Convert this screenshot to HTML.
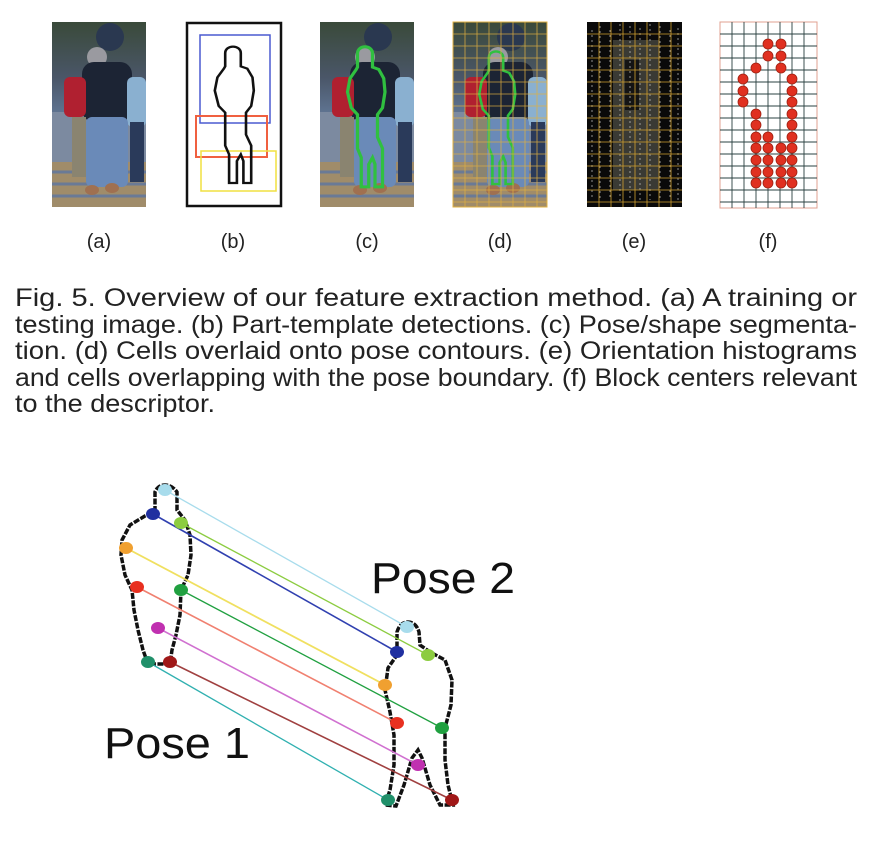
<!DOCTYPE html>
<html><head><meta charset="utf-8"><style>
html,body{margin:0;padding:0;background:#fff;}
svg{display:block;}
text{font-family:"Liberation Sans",Arial,sans-serif;}
</style></head><body>
<svg width="878" height="842" viewBox="0 0 878 842" xmlns="http://www.w3.org/2000/svg">
<defs>
<linearGradient id="ph" x1="0" y1="0" x2="0" y2="1">
<stop offset="0" stop-color="#3a4a3a"/><stop offset="0.3" stop-color="#4a5668"/><stop offset="0.6" stop-color="#6a84a8"/><stop offset="0.8" stop-color="#8a8a8a"/><stop offset="1" stop-color="#7a7a86"/>
</linearGradient>
<g id="photo">
<rect x="0" y="0" width="94" height="185" fill="url(#ph)"/>
<rect x="0" y="90" width="94" height="95" fill="#7c8aa0"/>
<rect x="0" y="140" width="94" height="45" fill="#a08c6a"/>
<g stroke="#6a7a96" stroke-width="3"><line x1="0" y1="150" x2="94" y2="150"/><line x1="0" y1="162" x2="94" y2="162"/><line x1="0" y1="174" x2="94" y2="174"/></g>
<ellipse cx="58" cy="15" rx="14" ry="14" fill="#2a3850"/>
<ellipse cx="45" cy="35" rx="10" ry="10" fill="#9a9aa0"/>
<rect x="30" y="40" width="50" height="60" rx="12" fill="#1c2434"/>
<rect x="12" y="55" width="22" height="40" rx="6" fill="#b02030"/>
<rect x="75" y="55" width="19" height="50" rx="6" fill="#8ab0d0"/>
<rect x="34" y="95" width="42" height="70" rx="6" fill="#6a8ab8"/>
<rect x="78" y="100" width="14" height="60" fill="#2a3a5a"/>
<rect x="20" y="95" width="14" height="60" fill="#8a8470"/>
<ellipse cx="40" cy="168" rx="7" ry="5" fill="#a07050"/>
<ellipse cx="60" cy="166" rx="7" ry="5" fill="#a07050"/>
</g>
<path id="sil" d="M14,12 C14,4 26,4 26,12 L26,24 L31,26 L35,34 L36,46 L34,60 L30,66 L30,86 L34,96 L34,130 L28,130 L28,110 L26,104 L23,110 L23,130 L17,130 L17,104 L14,96 L14,66 L9,60 L6,46 L8,34 L13,26 L14,24 Z"/>
</defs>

<g transform="translate(52,22)"><use href="#photo"/></g>
<rect x="187" y="23" width="94" height="183" fill="#fff" stroke="#111" stroke-width="2.5"/>
<rect x="200" y="35" width="70" height="88" fill="none" stroke="#4a5ad0" stroke-width="1.5"/>
<rect x="196" y="116" width="71" height="41" fill="none" stroke="#f06040" stroke-width="2"/>
<rect x="201" y="151" width="75" height="40" fill="none" stroke="#f0e040" stroke-width="1.5"/>
<g transform="translate(207,40) scale(1.3,1.1)"><use href="#sil" fill="none" stroke="#111" stroke-width="2"/></g>
<g transform="translate(320,22)"><use href="#photo"/></g>
<g transform="translate(340,40) scale(1.25,1.13)"><use href="#sil" fill="none" stroke="#30c040" stroke-width="2.6"/></g>
<g transform="translate(453,22)"><use href="#photo"/></g>
<g transform="translate(472,45) scale(1.2,1.07)"><use href="#sil" fill="none" stroke="#30c040" stroke-width="2.2"/></g>
<g stroke="#e0b040" stroke-width="0.8" opacity="0.9">
<path d="M465,22V207M477,22V207M489,22V207M501,22V207M513,22V207M525,22V207M537,22V207M547,22V207"/>
<path d="M453,34H547M453,46H547M453,58H547M453,70H547M453,82H547M453,94H547M453,106H547M453,118H547M453,130H547M453,142H547M453,154H547M453,166H547M453,178H547M453,190H547M453,202H547"/>
</g>
<rect x="453" y="22" width="94" height="185" fill="none" stroke="#e0b040"/>
<rect x="587" y="22" width="95" height="185" fill="#0a0a0a"/>
<rect x="613" y="40" width="46" height="150" fill="#3a3a34"/>
<rect x="625" y="60" width="14" height="50" fill="#141414"/>
<g stroke="#c8c8c8" stroke-width="1" stroke-dasharray="2 3" opacity="0.7">
<path d="M592,30V200M600,26V200M610,30V198M620,24V202M630,26V200M640,28V200M650,24V200M660,26V198M670,30V200M678,28V200"/>
</g>
<g stroke="#d0a030" stroke-width="0.8">
<path d="M599,22V207M611,22V207M623,22V207M635,22V207M647,22V207M659,22V207M671,22V207"/>
<path d="M587,34H682M587,46H682M587,58H682M587,70H682M587,82H682M587,94H682M587,106H682M587,118H682M587,130H682M587,142H682M587,154H682M587,166H682M587,178H682M587,190H682M587,202H682"/>
</g>
<rect x="720" y="22" width="97" height="186" fill="#fff" stroke="#e0a090"/>
<g stroke="#2a4040" stroke-width="0.9">
<path d="M732,22V208M744,22V208M756,22V208M768,22V208M780,22V208M792,22V208M804,22V208"/>
<path d="M720,34H817M720,46H817M720,58H817M720,70H817M720,82H817M720,94H817M720,106H817M720,118H817M720,130H817M720,142H817M720,154H817M720,166H817M720,178H817M720,190H817M720,202H817"/>
</g>
<g fill="#e03020" stroke="#a02010" stroke-width="0.8">
<circle cx="768" cy="44" r="5"/><circle cx="781" cy="44" r="5"/><circle cx="768" cy="56" r="5"/><circle cx="781" cy="56" r="5"/>
<circle cx="756" cy="68" r="5"/><circle cx="781" cy="68" r="5"/>
<circle cx="743" cy="79" r="5"/><circle cx="792" cy="79" r="5"/>
<circle cx="743" cy="91" r="5"/><circle cx="792" cy="91" r="5"/>
<circle cx="743" cy="102" r="5"/><circle cx="792" cy="102" r="5"/>
<circle cx="756" cy="114" r="5"/><circle cx="792" cy="114" r="5"/>
<circle cx="756" cy="125" r="5"/><circle cx="792" cy="125" r="5"/>
<circle cx="756" cy="137" r="5"/><circle cx="768" cy="137" r="5"/><circle cx="792" cy="137" r="5"/>
<circle cx="756" cy="148" r="5"/><circle cx="768" cy="148" r="5"/><circle cx="781" cy="148" r="5"/><circle cx="792" cy="148" r="5"/>
<circle cx="756" cy="160" r="5"/><circle cx="768" cy="160" r="5"/><circle cx="781" cy="160" r="5"/><circle cx="792" cy="160" r="5"/>
<circle cx="756" cy="172" r="5"/><circle cx="768" cy="172" r="5"/><circle cx="781" cy="172" r="5"/><circle cx="792" cy="172" r="5"/>
<circle cx="756" cy="183" r="5"/><circle cx="768" cy="183" r="5"/><circle cx="781" cy="183" r="5"/><circle cx="792" cy="183" r="5"/>
</g>

<g font-size="20" fill="#222" text-anchor="middle">
<text x="99" y="248">(a)</text><text x="233" y="248">(b)</text><text x="367" y="248">(c)</text>
<text x="500" y="248">(d)</text><text x="634" y="248">(e)</text><text x="768" y="248">(f)</text>
</g>

<g font-size="25" fill="#222">
<text x="15" y="306" textLength="842" lengthAdjust="spacingAndGlyphs">Fig. 5. Overview of our feature extraction method. (a) A training or</text>
<text x="15" y="333" textLength="842" lengthAdjust="spacingAndGlyphs">testing image. (b) Part-template detections. (c) Pose/shape segmenta-</text>
<text x="15" y="359" textLength="842" lengthAdjust="spacingAndGlyphs">tion. (d) Cells overlaid onto pose contours. (e) Orientation histograms</text>
<text x="15" y="386" textLength="842" lengthAdjust="spacingAndGlyphs">and cells overlapping with the pose boundary. (f) Block centers relevant</text>
<text x="15" y="412" textLength="200" lengthAdjust="spacingAndGlyphs">to the descriptor.</text>
</g>

<g fill="none" stroke="#111" stroke-width="3.5" stroke-dasharray="6 1.5">
<path d="M155,512 L155,492 Q158,485 165,485 Q172,485 177,492 L177,510 L185,520 L190,535 L191,555 L188,575 L181,590 L180,615 L176,635 L172,650 L170,664 L148,664 L143,650 L138,630 L134,610 L132,590 L125,575 L121,555 L122,540 L130,525 L145,516 Z"/>
<path d="M397,655 L397,632 Q400,622 408,622 Q416,622 419,632 L420,645 L430,652 L445,660 L452,680 L451,705 L445,728 L445,760 L448,785 L453,805 L440,805 L430,785 L422,758 L418,750 L412,758 L404,785 L396,806 L385,805 L390,790 L394,765 L394,735 L390,712 L385,690 L388,668 Z"/>
</g>
<g stroke-width="1.3" fill="none">
<line x1="165" y1="490" x2="407" y2="627" stroke="#a8dcec"/>
<line x1="153" y1="514" x2="397" y2="652" stroke="#3040b0" stroke-width="1.6"/>
<line x1="181" y1="523" x2="428" y2="655" stroke="#8ccc40"/>
<line x1="126" y1="548" x2="385" y2="685" stroke="#f0e060" stroke-width="1.8"/>
<line x1="137" y1="587" x2="397" y2="723" stroke="#f08070" stroke-width="1.6"/>
<line x1="181" y1="590" x2="442" y2="728" stroke="#20a040"/>
<line x1="158" y1="628" x2="418" y2="765" stroke="#d070d0" stroke-width="1.6"/>
<line x1="170" y1="662" x2="452" y2="800" stroke="#a04040" stroke-width="1.6"/>
<line x1="148" y1="662" x2="388" y2="800" stroke="#30b0b0"/>
</g>
<g>
<ellipse cx="165" cy="490" rx="7" ry="6" fill="#a8dcec"/>
<ellipse cx="153" cy="514" rx="7" ry="6" fill="#2030a0"/>
<ellipse cx="181" cy="523" rx="7" ry="6" fill="#8ccc40"/>
<ellipse cx="126" cy="548" rx="7" ry="6" fill="#f0a030"/>
<ellipse cx="137" cy="587" rx="7" ry="6" fill="#e83020"/>
<ellipse cx="181" cy="590" rx="7" ry="6" fill="#20a040"/>
<ellipse cx="158" cy="628" rx="7" ry="6" fill="#c030b0"/>
<ellipse cx="148" cy="662" rx="7" ry="6" fill="#20906a"/>
<ellipse cx="170" cy="662" rx="7" ry="6" fill="#a01818"/>
<ellipse cx="407" cy="627" rx="7" ry="6" fill="#a8dcec"/>
<ellipse cx="397" cy="652" rx="7" ry="6" fill="#2030a0"/>
<ellipse cx="428" cy="655" rx="7" ry="6" fill="#8ccc40"/>
<ellipse cx="385" cy="685" rx="7" ry="6" fill="#f0a030"/>
<ellipse cx="397" cy="723" rx="7" ry="6" fill="#e83020"/>
<ellipse cx="442" cy="728" rx="7" ry="6" fill="#20a040"/>
<ellipse cx="418" cy="765" rx="7" ry="6" fill="#c030b0"/>
<ellipse cx="388" cy="800" rx="7" ry="6" fill="#20906a"/>
<ellipse cx="452" cy="800" rx="7" ry="6" fill="#a01818"/>
</g>
<text x="371" y="593" font-size="44" fill="#111" textLength="144" lengthAdjust="spacingAndGlyphs">Pose 2</text>
<text x="104" y="758" font-size="44" fill="#111" textLength="146" lengthAdjust="spacingAndGlyphs">Pose 1</text>
</svg>
</body></html>
